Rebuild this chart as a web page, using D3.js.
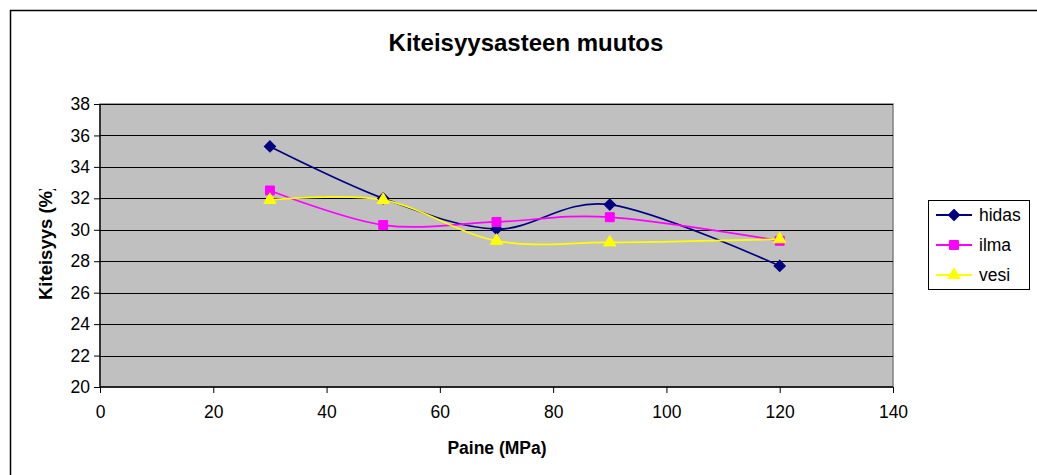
<!DOCTYPE html>
<html>
<head>
<meta charset="utf-8">
<script src="https://cdn.jsdelivr.net/npm/d3@7"></script>
<style>
  html, body { margin: 0; padding: 0; background: #fff; }
  svg { display: block; font-family: "Liberation Sans", Arial, sans-serif; }
</style>
</head>
<body>
<svg id="chart" width="1037" height="475"></svg>
<script>
// pressure (MPa) and crystallinity (%)
const paine = [30, 50, 70, 90, 120];
const hidas = [35.3, 32.0, 30.05, 31.6, 27.7];
const ilma = [32.5, 30.3, 30.5, 30.8, 29.3];
const vesi = [31.9, 31.9, 29.3, 29.2, 29.4];
const xTicks = [0, 20, 40, 60, 80, 100, 120, 140];
const yTicks = [20, 22, 24, 26, 28, 30, 32, 34, 36, 38];

const series = [
  { name: "hidas", values: hidas, color: "#000080", shape: "diamond" },
  { name: "ilma", values: ilma, color: "#ff00ff", shape: "square" },
  { name: "vesi", values: vesi, color: "#ffff00", shape: "triangle" },
];

const svg = d3.select("#chart");
const m = { l: 100, r: 893, t: 104, b: 387 };

const x = d3.scaleLinear().domain([0, 140]).range([m.l, m.r]);
const y = d3.scaleLinear().domain([20, 38]).range([m.b, m.t]);

// outer chart border (runs off right/bottom edges)
svg.append("rect").attr("x", 10.5).attr("y", 10.5).attr("width", 1200).attr("height", 700)
  .attr("fill", "none").attr("stroke", "#000").attr("stroke-width", 1.5);

svg.append("text").attr("x", 526).attr("y", 51).attr("text-anchor", "middle")
  .attr("font-size", 24).attr("font-weight", "bold").text("Kiteisyysasteen muutos");

// plot area
svg.append("rect").attr("x", m.l).attr("y", m.t).attr("width", m.r - m.l).attr("height", m.b - m.t)
  .attr("fill", "#c0c0c0").attr("stroke", "#808080").attr("stroke-width", 1.5);

svg.append("g").selectAll("line").data(yTicks.slice(1)).join("line")
  .attr("x1", m.l).attr("x2", m.r).attr("y1", (d) => Math.round(y(d)) + 0.5).attr("y2", (d) => Math.round(y(d)) + 0.5)
  .attr("stroke", "#000").attr("stroke-width", 1.2);

// axes
const yAxis = svg.append("g").attr("transform", `translate(${m.l},0)`)
  .call(d3.axisLeft(y).tickValues(yTicks).tickSize(6).tickPadding(4));
const xAxis = svg.append("g").attr("transform", `translate(0,${m.b})`)
  .call(d3.axisBottom(x).tickValues(xTicks).tickSize(6).tickPadding(13));
[yAxis, xAxis].forEach((a) => {
  a.select(".domain").attr("stroke", "#000").attr("stroke-width", 1.3);
  a.selectAll(".tick line").attr("stroke", "#000");
  a.selectAll("text").attr("font-size", 17.5).attr("fill", "#000").attr("font-family", "Liberation Sans, Arial, sans-serif");
});
xAxis.select(".domain").attr("d", `M${m.l},0H${m.r}`);
yAxis.select(".domain").attr("d", `M0,${m.b}V${m.t}`);

svg.append("text").attr("x", 497).attr("y", 454).attr("text-anchor", "middle")
  .attr("font-size", 17.5).attr("font-weight", "bold").text("Paine (MPa)");

// y title, clipped at the top as in the original
svg.append("clipPath").attr("id", "yclip").append("rect").attr("x", 20).attr("y", 189).attr("width", 40).attr("height", 200);
svg.append("g").attr("clip-path", "url(#yclip)")
  .append("text")
  .attr("transform", "translate(52,300) rotate(-90)").attr("text-anchor", "start")
  .attr("font-size", 18.5).attr("font-weight", "bold").text("Kiteisyys (%)");

const symbolOf = { diamond: d3.symbolSquare, square: d3.symbolSquare, triangle: d3.symbolTriangle };
const sizeOf = { diamond: 64, square: 80, triangle: 66 };
const rotOf = { diamond: 45, square: 0, triangle: 0 };
const line = d3.line().curve(d3.curveCatmullRom.alpha(0)).x((d) => x(d[0])).y((d) => y(d[1]));

series.forEach((s) => {
  const pts = paine.map((p, i) => [p, s.values[i]]);
  svg.append("path").datum(pts).attr("fill", "none").attr("stroke", s.color).attr("stroke-width", 1.7).attr("d", line);
});
series.forEach((s) => {
  const pts = paine.map((p, i) => [p, s.values[i]]);
  svg.append("g").selectAll("path").data(pts).join("path")
    .attr("transform", (d) => `translate(${x(d[0])},${y(d[1])}) rotate(${rotOf[s.shape]})`)
    .attr("d", d3.symbol(symbolOf[s.shape], sizeOf[s.shape]))
    .attr("fill", s.color).attr("stroke", s.color).attr("stroke-width", 1);
});

// legend
const lg = svg.append("g");
lg.append("rect").attr("x", 928.5).attr("y", 200.5).attr("width", 101).attr("height", 89)
  .attr("fill", "#fff").attr("stroke", "#000").attr("stroke-width", 1);
series.forEach((s, i) => {
  const yy = 215 + i * 30;
  lg.append("line").attr("x1", 936).attr("x2", 972).attr("y1", yy).attr("y2", yy).attr("stroke", s.color).attr("stroke-width", 1.8);
  lg.append("path").attr("transform", `translate(954,${yy}) rotate(${rotOf[s.shape]})`)
    .attr("d", d3.symbol(symbolOf[s.shape], sizeOf[s.shape]))
    .attr("fill", s.color).attr("stroke", s.color);
  lg.append("text").attr("x", 979).attr("y", yy + 6).attr("font-size", 17.5).text(s.name);
});
</script>
</body>
</html>
